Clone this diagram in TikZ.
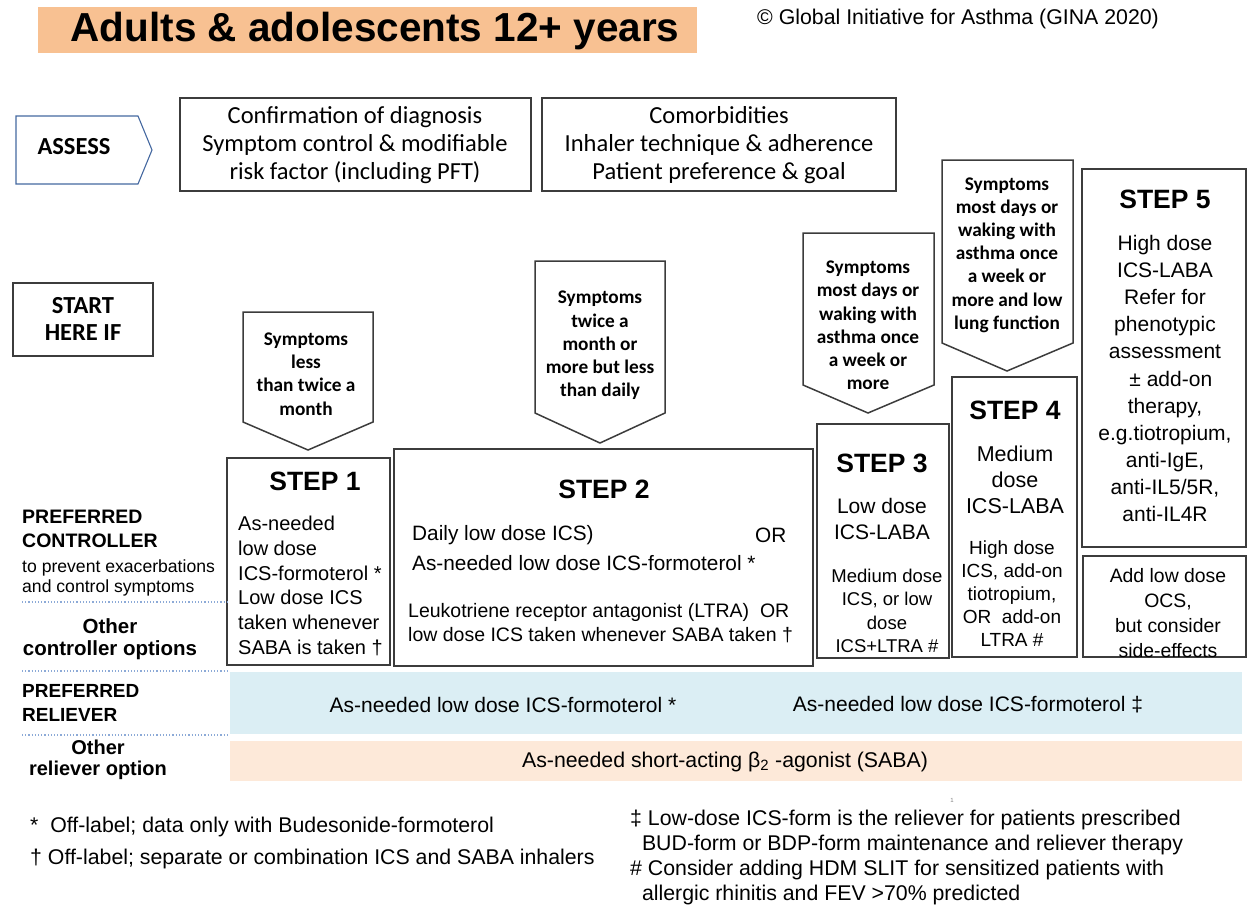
\documentclass[tikz,border=0pt]{standalone}
\usepackage{fontspec}
\setmainfont{Liberation Sans}
\newfontfamily\calfont{Carlito}
\definecolor{titleor}{RGB}{248,193,146}
\definecolor{bandblue}{RGB}{219,238,244}
\definecolor{bandor}{RGB}{253,233,217}
\definecolor{assessblue}{RGB}{68,104,160}
\definecolor{dotblue}{RGB}{140,170,215}
\definecolor{edge}{RGB}{60,60,60}
\newcommand{\fs}[2]{\fontsize{#1}{#2}\selectfont}
\tikzset{
  boxline/.style={draw=edge, line width=1.3pt},
  stepbox/.style={draw=edge, line width=1.8pt},
  dnarrow/.style={draw=edge, line width=1.5pt, fill=white},
  txt/.style={inner sep=0pt, align=center},
  ltxt/.style={inner sep=0pt, align=left, anchor=west},
  steptitle/.style={inner sep=0pt, font=\fs{26.5}{30}\bfseries},
  arrtxt/.style={inner sep=0pt, align=center, font=\calfont\bfseries\fs{19.3}{23.2}},
  dotline/.style={draw=dotblue, line width=1.2pt, dotted},
}
\begin{document}
\begin{tikzpicture}[x=1pt,y=-1pt]
\useasboundingbox (0,0) rectangle (1248,908);
% title
\fill[titleor] (38,7) rectangle (697,53);
\node[txt, font=\fs{40.5}{44}\bfseries] (title) at (375,31) {Adults \& adolescents 12+ years};
\node[ltxt, font=\fs{21.3}{24}] (copy) at (757,19) {\textcopyright{} Global Initiative for Asthma (GINA 2020)};
% assess
\draw[draw=assessblue, line width=1.1pt] (16,116) -- (138,116) -- (152,150) -- (138,184) -- (16,184) -- cycle;
\node[txt, font=\calfont\bfseries\fs{24.5}{28}] (assess) at (74,147) {ASSESS};
\draw[boxline] (180,98) rectangle (531,191);
\node[txt, font=\calfont\fs{24.5}{28}] (a1) at (355,145) {Confirmation of diagnosis\\Symptom control \& modifiable\\risk factor (including PFT)};
\draw[boxline] (542,98) rectangle (896,191);
\node[txt, font=\calfont\fs{24.5}{28}] (a2) at (719,145) {Comorbidities\\Inhaler technique \& adherence\\Patient preference \& goal};
% start here if
\draw[boxline] (13,283) rectangle (153,356);
\node[txt, font=\calfont\bfseries\fs{24.5}{27}] (start) at (83,319) {START\\HERE IF};
% step 1
\draw[dnarrow] (243,312) -- (373,312) -- (373,422) -- (308,450) -- (243,422) -- cycle;
\node[arrtxt] (ar1) at (306,374) {Symptoms\\less\\than twice a\\month};
\draw[stepbox] (227,458) rectangle (390,665);
\node[steptitle] (s1) at (315,481) {STEP 1};
\node[ltxt, font=\fs{20}{24.8}] (s1t) at (238,586) {As-needed\\low dose\\ICS-formoterol *\\Low dose ICS\\taken whenever\\SABA is taken \textdagger};
% step 2
\draw[dnarrow] (535,261) -- (665,261) -- (665,413) -- (600,443) -- (535,413) -- cycle;
\node[arrtxt] (ar2) at (600,345.5) {Symptoms\\twice a\\month or\\more but less\\than daily};
\draw[stepbox] (394,449) rectangle (813,666);
\node[steptitle] (s2) at (604,489) {STEP 2};
\node[ltxt, font=\fs{20.8}{26}] (s2a) at (412,535) {Daily low dose ICS)};
\node[ltxt, font=\fs{20.8}{26}] (s2or) at (755,535) {OR};
\node[ltxt, font=\fs{20.8}{26}] (s2b) at (412,563) {As-needed low dose ICS-formoterol *};
\node[ltxt, font=\fs{19.5}{24}] (s2c) at (408,623) {Leukotriene receptor antagonist (LTRA)\ \ OR\\low dose ICS taken whenever SABA taken \textdagger};
% step 3
\draw[dnarrow] (803,233) -- (934,233) -- (934,385) -- (868,413) -- (803,385) -- cycle;
\node[arrtxt] (ar3) at (868,325.5) {Symptoms\\most days or\\waking with\\asthma once\\a week or\\more};
\draw[stepbox] (817,424) rectangle (949,658);
\node[steptitle] (s3) at (882,463) {STEP 3};
\node[txt, font=\fs{21}{26}] (s3a) at (882,519) {Low dose\\ICS-LABA};
\node[txt, font=\fs{18.5}{23.3}] (s3b) at (887,611) {Medium dose\\ICS, or low\\dose\\ICS+LTRA \#};
% step 4
\draw[dnarrow] (942,160) -- (1073,160) -- (1073,343) -- (1007,371) -- (942,343) -- cycle;
\node[arrtxt] (ar4) at (1007,255) {Symptoms\\most days or\\waking with\\asthma once\\a week or\\more and low\\lung function};
\draw[stepbox] (952,377) rectangle (1077,657);
\node[steptitle] (s4) at (1015,410) {STEP 4};
\node[txt, font=\fs{21.5}{26}] (s4a) at (1015,480) {Medium\\dose\\ICS-LABA};
\node[txt, font=\fs{19}{23}] (s4b) at (1012,594) {High dose\\ICS, add-on\\tiotropium,\\OR\ \ add-on\\LTRA \#};
% step 5
\draw[boxline] (1082,169) rectangle (1246,547);
\node[steptitle] (s5) at (1165,199) {STEP 5};
\node[txt, font=\fs{21}{27.1}] (s5a) at (1165,378.5) {High dose\\ICS-LABA\\Refer for\\phenotypic\\assessment\\\ \ \textpm{} add-on\\therapy,\\e.g.tiotropium,\\anti-IgE,\\anti-IL5/5R,\\anti-IL4R};
\draw[boxline] (1083,556) rectangle (1246,657);
\node[txt, font=\fs{19.4}{25}] (s5b) at (1168,613.5) {Add low dose\\OCS,\\but consider\\side-effects};
% left labels
\node[ltxt, font=\fs{19.5}{24}\bfseries] (pc) at (22,529) {PREFERRED\\CONTROLLER};
\node[ltxt, font=\fs{17.6}{20}] (pcs) at (22,578) {to prevent exacerbations\\and control symptoms};
\node[txt, font=\fs{20.5}{22}\bfseries] (oc) at (110,639) {Other\\controller options};
\node[ltxt, font=\fs{19}{24}\bfseries] (pr) at (22,703) {PREFERRED\\RELIEVER};
\node[txt, font=\fs{20}{20.5}\bfseries] (orl) at (98,760) {Other\\reliever option};
\coordinate (d1a) at (22,602); \coordinate (d1b) at (227,602);
\coordinate (d2a) at (22,671); \coordinate (d2b) at (227,671);
\coordinate (d3a) at (22,735); \coordinate (d3b) at (227,735);
\draw[dotline] (d1a) -- (d1b);
\draw[dotline] (d2a) -- (d2b);
\draw[dotline] (d3a) -- (d3b);
% bands
\fill[bandblue] (230,672) rectangle (1242,734);
\node[txt, font=\fs{21}{24}] (r1) at (503,705) {As-needed low dose ICS-formoterol *};
\node[txt, font=\fs{21}{24}] (r2) at (968,705) {As-needed low dose ICS-formoterol \textdaggerdbl};
\fill[bandor] (230,741) rectangle (1242,781);
\node[txt, font=\fs{21.3}{24}] (r3) at (725,762) {As-needed short-acting β\textsubscript{2} -agonist (SABA)};
% footnotes
\node[ltxt, font=\fs{21.3}{24}] (f1) at (30,827) {*\ \ Off-label; data only with Budesonide-formoterol};
\node[ltxt, font=\fs{21.3}{24}] (f2) at (30,859) {\textdagger{} Off-label; separate or combination ICS and SABA inhalers};
\node[ltxt, font=\fs{21.3}{25}] (f3) at (630,832.5) {\textdaggerdbl{} Low-dose ICS-form is the reliever for patients prescribed\\\ \ BUD-form or BDP-form maintenance and reliever therapy};
\node[ltxt, font=\fs{21.3}{25}] (f4) at (630,882.5) {\# Consider adding HDM SLIT for sensitized patients with\\\ \ allergic rhinitis and FEV >70\% predicted};
\node[txt, font=\fs{6}{7}, text=gray] (pg) at (952,800) {1};
\end{tikzpicture}
\end{document}
